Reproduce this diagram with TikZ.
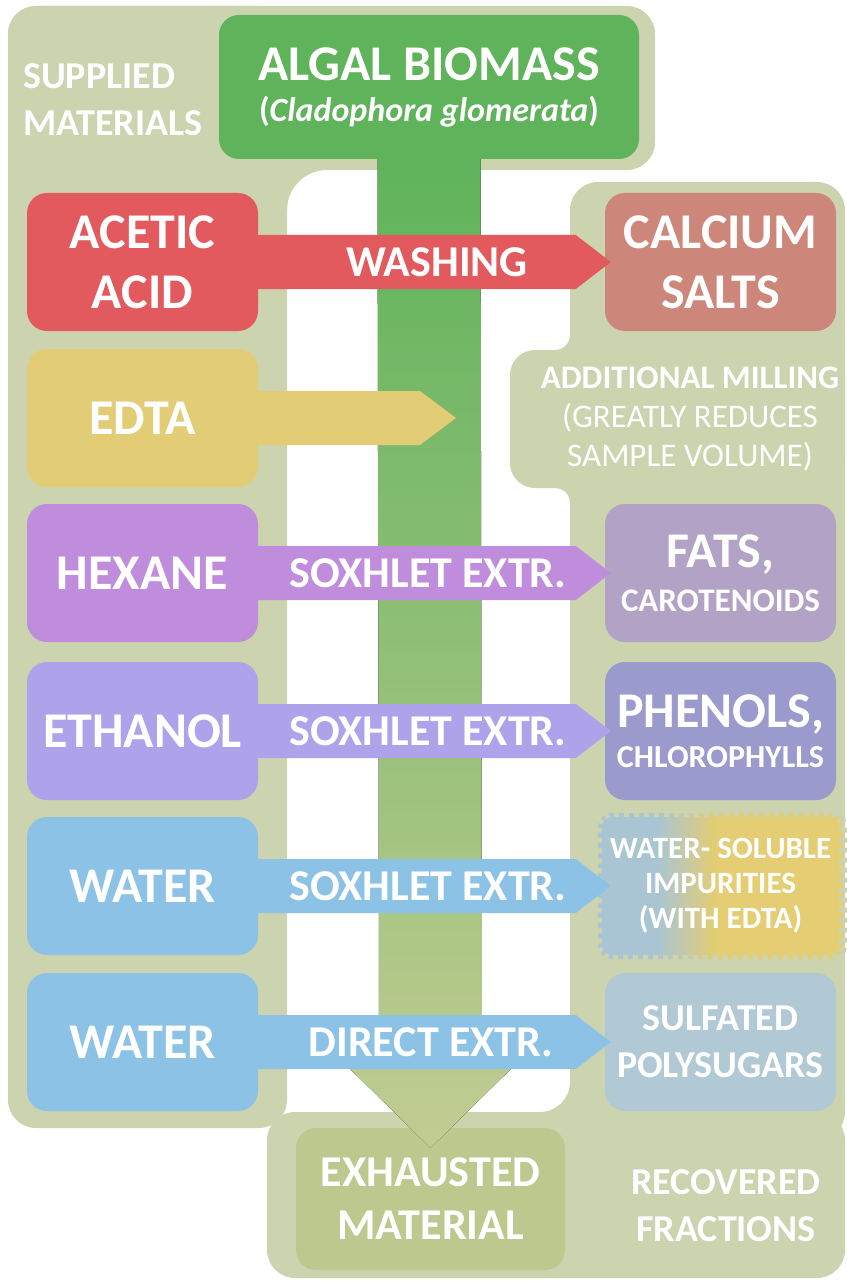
\documentclass[tikz,border=0pt]{standalone}
\usepackage{fontspec}
\setmainfont{Carlito}
\usetikzlibrary{shadings}

\definecolor{panel}{HTML}{CCD3AF}
\definecolor{biomass}{HTML}{5FB35B}
\definecolor{colbottom}{HTML}{C2CC92}
\definecolor{acid}{HTML}{E35A5E}
\definecolor{calcium}{HTML}{CC877A}
\definecolor{edta}{HTML}{E3CC76}
\definecolor{hexane}{HTML}{BF8DDB}
\definecolor{fats}{HTML}{B2A2C5}
\definecolor{ethanol}{HTML}{AEA3EA}
\definecolor{phenols}{HTML}{9B9ACD}
\definecolor{water}{HTML}{8CC2E6}
\definecolor{sugars}{HTML}{B0C9D4}
\definecolor{impblue}{HTML}{A9C5D3}
\definecolor{impyellow}{HTML}{E4CD72}
\definecolor{exhausted}{HTML}{BCC88D}

\pgfdeclarehorizontalshading{impshade}{100bp}{color(0bp)=(impblue); color(37bp)=(impblue); color(49bp)=(impyellow); color(100bp)=(impyellow)}

\begin{document}
\begin{tikzpicture}[
    x=1pt, y=-1pt,
    every node/.style={text=white, align=center, inner sep=0pt},
    bigfont/.style={font=\bfseries\fontsize{50}{60}\selectfont},
    srcbox/.style={rounded corners=20pt, minimum width=231pt, minimum height=138pt, bigfont},
    impbox/.style={rounded corners=14pt, minimum width=245pt, minimum height=146pt,
        shade, shading=impshade,
        postaction={draw=panel, line width=8pt, dash pattern=on 5pt off 5pt},
        font=\bfseries\fontsize{31}{35}\selectfont},
    bandlbl/.style={font=\bfseries\fontsize{44}{50}\selectfont},
    paneltitle/.style={font=\bfseries\fontsize{38}{47}\selectfont}
]
\useasboundingbox (0,0) rectangle (846,1281);

% ===== BACKGROUND PANELS =====
\fill[panel, rounded corners=28pt] (8,6) rectangle (655,170);
\fill[panel, rounded corners=28pt] (8,6) rectangle (287,1128);
\fill[panel, rounded corners=28pt] (570,182) rectangle (845,1140);
\fill[panel, rounded corners=28pt] (267,1112) rectangle (845,1278);
\fill[panel, rounded corners=25pt] (510,350) rectangle (845,488);

% --- inner corners ---
\fill[panel] (287,170) -- (327,170) .. controls (305,170) and (287,188) .. (287,210) -- cycle;
\fill[panel] (570,1112) -- (570,1082) .. controls (570,1098.5) and (556.5,1112) .. (540,1112) -- cycle;
\fill[panel] (570,350) -- (570,335) .. controls (570,343.3) and (563.3,350) .. (555,350) -- cycle;
\fill[panel] (570,488) -- (570,503) .. controls (570,494.7) and (563.3,488) .. (555,488) -- cycle;

\node[paneltitle, anchor=west, align=left] (supplied) at (23,100) {SUPPLIED\\MATERIALS};
\node[paneltitle] (recovered) at (726,1206) {RECOVERED\\FRACTIONS};

% ===== TOP AND BOTTOM =====
\node[fill=biomass, rounded corners=20pt, minimum width=420pt, minimum height=144pt,
      font=\bfseries\fontsize{34}{41}\selectfont] (biomass) at (429,87)
    {{\fontsize{50}{41}\selectfont ALGAL BIOMASS}\\(\textit{Cladophora glomerata})};
\node[fill=exhausted, rounded corners=20pt, minimum width=269pt, minimum height=142pt,
      font=\bfseries\fontsize{44}{53}\selectfont] (exhausted) at (430.5,1199)
    {EXHAUSTED\\MATERIAL};

% ===== LEFT: SOLVENTS =====
\node[srcbox, fill=acid] (acetic) at (142.5,262) {ACETIC\\ACID};
\node[srcbox, fill=edta] (edta) at (142.5,418) {EDTA};
\node[srcbox, fill=hexane] (hexane) at (142.5,573) {HEXANE};
\node[srcbox, fill=ethanol] (ethanol) at (142.5,731) {ETHANOL};
\node[srcbox, fill=water] (water) at (142.5,886) {WATER};
\node[srcbox, fill=water] (waterdir) at (142.5,1042) {WATER};

% ===== RIGHT: FRACTIONS =====
\node[srcbox, fill=calcium] (calcium) at (720.5,262) {CALCIUM\\SALTS};
\node[font=\fontsize{33}{39}\selectfont] (milling) at (690,419)
    {\textbf{ADDITIONAL MILLING}\\(GREATLY REDUCES\\SAMPLE VOLUME)};
\node[srcbox, fill=fats, font=\bfseries\fontsize{33}{44}\selectfont] (fats) at (720.5,573)
    {{\fontsize{50}{44}\selectfont FATS,}\\CAROTENOIDS};
\node[srcbox, fill=phenols, font=\bfseries\fontsize{32}{40}\selectfont] (phenols) at (720.5,731)
    {{\fontsize{50}{40}\selectfont PHENOLS,}\\CHLOROPHYLLS};
\node[impbox] (impurities) at (720.5,886) {WATER- SOLUBLE\\IMPURITIES\\(WITH EDTA)};
\node[srcbox, fill=sugars, font=\bfseries\fontsize{38}{47}\selectfont] (sugars) at (720.5,1042)
    {SULFATED\\POLYSUGARS};

% ===== MAIN FLOW =====
\coordinate (edtatip) at (456,418);
\fill[top color=biomass, bottom color=colbottom]
    ([xshift=-51.5pt]biomass.south) -- ([xshift=51.5pt]biomass.south)
    -- ([xshift=51.5pt,yshift=80pt]exhausted.north) -- ([xshift=102pt,yshift=80pt]exhausted.north)
    -- ([yshift=-20pt]exhausted.north)
    -- ([xshift=-102pt,yshift=80pt]exhausted.north) -- ([xshift=-51.5pt,yshift=80pt]exhausted.north)
    -- cycle;

% --- process arrows ---
\fill[acid] ([xshift=-5pt,yshift=27pt]acetic.east) -- ([xshift=-29pt,yshift=27pt]calcium.west)
    -- ([xshift=6pt]calcium.west) -- ([xshift=-29pt,yshift=-27pt]calcium.west)
    -- ([xshift=-5pt,yshift=-27pt]acetic.east) -- cycle;
\fill[edta] ([xshift=-5pt,yshift=27pt]edta.east) -- ([xshift=-36pt,yshift=27pt]edtatip)
    -- (edtatip) -- ([xshift=-36pt,yshift=-27pt]edtatip)
    -- ([xshift=-5pt,yshift=-27pt]edta.east) -- cycle;
\fill[hexane] ([xshift=-5pt,yshift=27pt]hexane.east) -- ([xshift=-29pt,yshift=27pt]fats.west)
    -- ([xshift=6pt]fats.west) -- ([xshift=-29pt,yshift=-27pt]fats.west)
    -- ([xshift=-5pt,yshift=-27pt]hexane.east) -- cycle;
\fill[ethanol] ([xshift=-5pt,yshift=27pt]ethanol.east) -- ([xshift=-29pt,yshift=27pt]phenols.west)
    -- ([xshift=6pt]phenols.west) -- ([xshift=-29pt,yshift=-27pt]phenols.west)
    -- ([xshift=-5pt,yshift=-27pt]ethanol.east) -- cycle;
\fill[water] ([xshift=-5pt,yshift=27pt]water.east) -- ([xshift=-22pt,yshift=27pt]impurities.west)
    -- ([xshift=13pt]impurities.west) -- ([xshift=-22pt,yshift=-27pt]impurities.west)
    -- ([xshift=-5pt,yshift=-27pt]water.east) -- cycle;
\fill[water] ([xshift=-5pt,yshift=27pt]waterdir.east) -- ([xshift=-29pt,yshift=27pt]sugars.west)
    -- ([xshift=6pt]sugars.west) -- ([xshift=-29pt,yshift=-27pt]sugars.west)
    -- ([xshift=-5pt,yshift=-27pt]waterdir.east) -- cycle;

\node[bandlbl] (washing) at (437,262) {WASHING};
\node[bandlbl] (soxhex) at (428,573) {SOXHLET EXTR.};
\node[bandlbl] (soxeth) at (428,731) {SOXHLET EXTR.};
\node[bandlbl] (soxwat) at (428,886) {SOXHLET EXTR.};
\node[bandlbl] (direct) at (431,1042) {DIRECT EXTR.};

\end{tikzpicture}
\end{document}
